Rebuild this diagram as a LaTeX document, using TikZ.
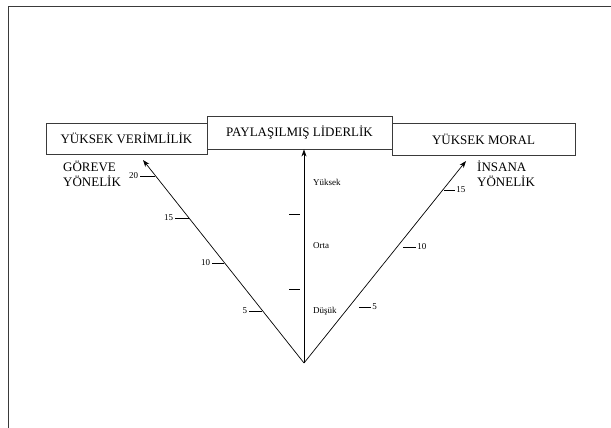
\documentclass[tikz,border=0pt]{standalone}
\usepackage{fontspec}
\setmainfont{Liberation Serif}
\usetikzlibrary{arrows.meta,positioning}
\definecolor{murekkep}{HTML}{3a3a3a}

\begin{document}
\begin{tikzpicture}[x=1pt,y=-1pt,
  kutu/.style={draw=murekkep, line width=0.9pt, inner sep=0pt, font=\fontsize{13}{15}\selectfont},
  ok/.style={-{Stealth[length=7pt,width=5pt]}, line width=0.7pt},
  cizgi/.style={line width=0.8pt},
  kucuk/.style={font=\fontsize{9}{10}\selectfont, inner sep=0pt},
  buyuk/.style={font=\fontsize{13}{15}\selectfont, align=left, inner sep=0pt}]
\useasboundingbox (0,0) rectangle (611,428);
% cerceve
\draw[murekkep, line width=1pt] (8,428) -- (8,7) -- (611,7);
% kutular
\node[kutu, minimum width=161pt, minimum height=31pt] (verim) at (126.5,138.5) {YÜKSEK VERİMLİLİK};
\node[kutu, minimum width=185pt, minimum height=33pt] (lider) at (299.5,132.5) {PAYLAŞILMIŞ LİDERLİK};
\node[kutu, minimum width=183pt, minimum height=32pt] (moral) at (483.5,139) {YÜKSEK MORAL};
% yonelim etiketleri
\node[buyuk, anchor=west] (gorev) at (63,174) {GÖREVE\\YÖNELİK};
\node[buyuk, anchor=west] (insan) at (477,174) {İNSANA\\YÖNELİK};
% oklar
\coordinate (tepe) at (304,363);
\coordinate (solok) at (143,160);
\coordinate (sagok) at (466,161);
\draw[ok] (tepe) -- (solok);
\draw[ok] (tepe) -- (tepe |- lider.south);
\draw[ok] (tepe) -- (sagok);
% sol olcek
\foreach \y/\xa/\xb/\n in {176/140/155/20, 218/175/189/15, 263/212/224/10, 311/249/262/5}
  \draw[cizgi] (\xa,\y) -- (\xb,\y) node[kucuk, pos=0, anchor=east, xshift=-1.5pt] (sol\n) {\n};
% sag olcek
\foreach \y/\xa/\xb/\n in {307/359/371/5, 247/403/416/10, 190/444/455/15}
  \draw[cizgi] (\xa,\y) -- (\xb,\y) node[kucuk, anchor=west, xshift=1pt] (sag\n) {\n};
% orta olcek
\foreach \y in {214,289} \draw[cizgi] (289,\y) -- (300,\y);
\node[kucuk, anchor=west] (yuksek) at (313,182) {Yüksek};
\node[kucuk, anchor=west] (orta) at (313,246) {Orta};
\node[kucuk, anchor=west] (dusuk) at (313,311) {Düşük};
\end{tikzpicture}
\end{document}
